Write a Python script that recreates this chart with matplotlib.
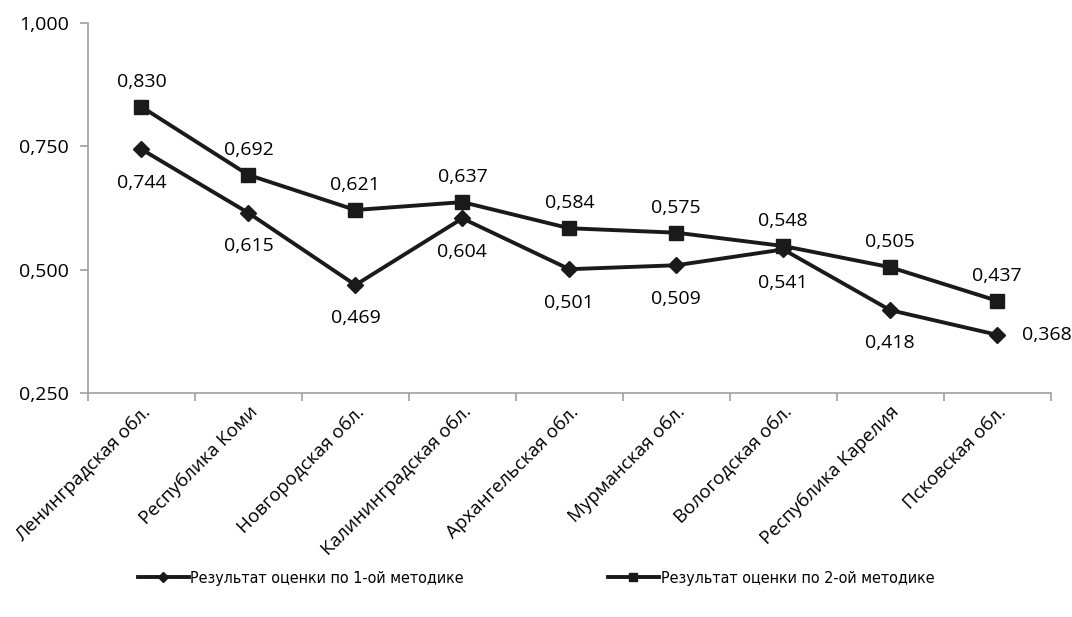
import matplotlib
matplotlib.use("Agg")
import matplotlib.pyplot as plt
from matplotlib.ticker import FuncFormatter, FixedLocator
import numpy as np

plt.rcParams["font.family"] = ["Open Sans", "DejaVu Sans"]

regions = ["Ленинградская обл.", "Республика Коми", "Новгородская обл.",
           "Калининградская обл.", "Архангельская обл.", "Мурманская обл.",
           "Вологодская обл.", "Республика Карелия", "Псковская обл."]
method1 = [0.744, 0.615, 0.469, 0.604, 0.501, 0.509, 0.541, 0.418, 0.368]
method2 = [0.830, 0.692, 0.621, 0.637, 0.584, 0.575, 0.548, 0.505, 0.437]
label1 = "Результат оценки по 1-ой методике"
label2 = "Результат оценки по 2-ой методике"

fig = plt.figure(figsize=(10.72, 6.17), dpi=100)
ax = fig.add_axes([0.0821, 0.363, 0.898, 0.5997])

x = np.arange(len(regions))
ax.plot(x, method1, color="#1a1a1a", lw=2.8, marker="D", ms=8.5, label=label1)
ax.plot(x, method2, color="#1a1a1a", lw=2.8, marker="s", ms=10, label=label2)

fmt = lambda v: f"{v:.3f}".replace(".", ",")
fs = 14
for i, (a, b) in enumerate(zip(method1, method2)):
    ax.annotate(fmt(b), (i, b), xytext=(0, 18), textcoords="offset points",
                ha="center", va="center", fontsize=fs)
    if i == len(x) - 1:
        ax.annotate(fmt(a), (i, a), xytext=(18, 0), textcoords="offset points",
                    ha="left", va="center", fontsize=fs)
    else:
        ax.annotate(fmt(a), (i, a), xytext=(0, -24), textcoords="offset points",
                    ha="center", va="center", fontsize=fs)

ax.set_xlim(-0.5, len(x) - 0.5)
ax.set_ylim(0.25, 1.0)
ax.set_yticks([0.25, 0.5, 0.75, 1.0])
ax.yaxis.set_major_formatter(FuncFormatter(lambda v, p: fmt(v)))

ax.set_xticks(x)
ax.set_xticklabels(regions, rotation=45, ha="right", rotation_mode="anchor",
                   fontsize=13.5)
ax.xaxis.set_minor_locator(FixedLocator(np.arange(-0.5, len(x), 1.0)))
ax.tick_params(axis="x", which="major", length=0, pad=7)
ax.tick_params(axis="x", which="minor", length=6, color="#a0a0a0", width=1.2)
ax.tick_params(axis="y", length=6, color="#a0a0a0", width=1.2, labelsize=fs, pad=8)

for side in ["top", "right"]:
    ax.spines[side].set_visible(False)
for side in ["left", "bottom"]:
    ax.spines[side].set_color("#a0a0a0")
    ax.spines[side].set_linewidth(1.2)

fig.legend(loc="center", bbox_to_anchor=(0.5, 0.063), ncol=2, frameon=False,
           prop={"family": "DejaVu Sans", "stretch": "condensed", "size": 11.5},
           handlelength=3.2, handletextpad=0.1, columnspacing=9, markerscale=0.6)

fig.savefig("out.png", dpi=100)
